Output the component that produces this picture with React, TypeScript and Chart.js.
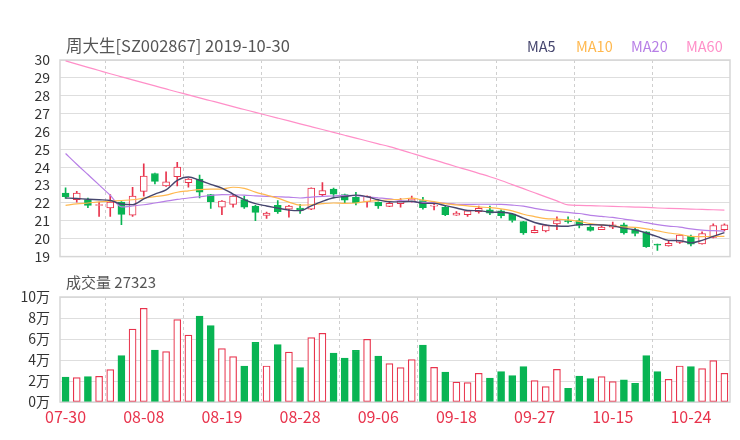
import { useEffect, useRef } from 'react';
import { Chart, registerables } from 'chart.js';

Chart.register(...registerables);

const FONT = "'Noto Sans CJK SC', 'Noto Sans', sans-serif";
const RED = '#e8334c';
const GREEN = '#08b453';

const dates = ['07-30','07-31','08-01','08-02','08-05','08-06','08-07','08-08','08-09','08-12','08-13','08-14','08-15','08-16','08-19','08-20','08-21','08-22','08-23','08-26','08-27','08-28','08-29','08-30','09-02','09-03','09-04','09-05','09-06','09-09','09-10','09-11','09-12','09-16','09-17','09-18','09-19','09-20','09-23','09-24','09-25','09-26','09-27','09-30','10-08','10-09','10-10','10-11','10-14','10-15','10-16','10-17','10-18','10-21','10-22','10-23','10-24','10-25','10-28','10-29'];

const open = [22.56,22.19,22.19,21.86,21.72,22.05,21.32,22.65,23.65,22.96,23.47,23.14,23.34,22.47,21.77,21.92,22.19,21.83,21.30,21.87,21.65,21.72,21.65,22.47,22.78,22.47,22.32,22.07,22.05,21.81,21.96,22.07,22.14,21.82,21.77,21.32,21.34,21.52,21.61,21.56,21.38,20.96,20.34,20.43,20.83,21.00,21.02,20.65,20.51,20.65,20.78,20.51,20.38,19.67,19.60,19.80,20.14,19.71,20.07,20.51];
const close = [22.36,22.56,21.87,21.88,22.05,21.36,22.38,23.50,23.21,23.18,24.01,23.34,22.61,22.07,22.10,22.38,21.77,21.47,21.43,21.51,21.83,21.60,22.83,22.69,22.50,22.16,22.01,22.38,21.83,21.98,22.10,22.23,21.74,21.84,21.34,21.43,21.56,21.70,21.43,21.29,21.02,20.32,20.47,20.74,21.02,20.96,20.74,20.47,20.65,20.78,20.32,20.29,19.56,19.64,19.74,20.20,19.69,20.29,20.74,20.78];
const high = [22.85,22.65,22.28,22.05,22.47,22.08,22.87,24.19,23.68,23.74,24.28,23.36,23.56,22.48,22.14,22.45,22.38,21.87,21.49,22.14,21.87,21.92,22.85,23.14,22.83,22.50,22.59,22.40,22.07,22.05,22.25,22.38,22.32,22.01,21.83,21.52,21.57,21.83,21.83,21.61,21.41,20.98,20.71,20.78,21.23,21.22,21.11,20.74,20.74,20.93,20.87,20.61,20.40,19.70,19.87,20.24,20.20,20.38,20.83,20.83];
const low = [22.25,22.05,21.74,21.25,21.25,20.78,21.25,22.38,23.07,22.92,22.96,22.88,22.28,21.69,21.34,21.77,21.70,21.01,21.14,21.41,21.20,21.41,21.63,22.41,22.28,22.01,21.89,21.77,21.69,21.79,21.77,22.05,21.65,21.61,21.29,21.31,21.25,21.43,21.34,21.16,20.93,20.24,20.33,20.38,20.51,20.87,20.61,20.42,20.50,20.56,20.25,20.16,19.52,19.34,19.59,19.74,19.60,19.69,20.05,20.43];

const ma5 = [22.28,22.25,22.21,22.18,22.14,21.94,21.91,22.23,22.50,22.73,23.26,23.45,23.27,23.04,22.83,22.50,22.19,21.96,21.83,21.71,21.60,21.57,21.84,22.09,22.29,22.36,22.44,22.35,22.18,22.07,22.06,22.10,21.98,21.98,21.85,21.72,21.58,21.57,21.49,21.48,21.40,21.15,20.91,20.77,20.71,20.70,20.79,20.79,20.77,20.72,20.59,20.50,20.32,20.12,19.91,19.89,19.77,19.91,20.13,20.34];
const ma10 = [21.87,21.95,22.00,22.06,22.10,22.14,22.18,22.27,22.36,22.44,22.60,22.68,22.75,22.77,22.78,22.88,22.82,22.61,22.44,22.27,22.05,21.88,21.90,21.96,22.00,21.98,22.00,22.09,22.13,22.18,22.21,22.27,22.16,22.08,21.96,21.89,21.84,21.78,21.74,21.67,21.56,21.37,21.24,21.13,21.10,21.05,20.97,20.85,20.77,20.72,20.65,20.64,20.55,20.44,20.32,20.24,20.13,20.12,20.13,20.13];
const ma20 = [24.77,24.17,23.59,23.01,22.43,21.78,21.83,21.90,22.00,22.10,22.20,22.28,22.35,22.42,22.47,22.46,22.44,22.40,22.37,22.35,22.33,22.28,22.33,22.37,22.39,22.43,22.41,22.35,22.29,22.23,22.13,22.07,22.03,22.02,21.98,21.93,21.92,21.93,21.93,21.92,21.88,21.82,21.70,21.60,21.53,21.47,21.41,21.31,21.25,21.19,21.10,21.01,20.90,20.79,20.71,20.65,20.55,20.48,20.45,20.42];
const ma60 = [29.95,29.77,29.59,29.41,29.23,29.06,28.89,28.72,28.55,28.38,28.21,28.05,27.88,27.72,27.56,27.39,27.23,27.07,26.91,26.75,26.59,26.43,26.27,26.11,25.95,25.79,25.63,25.47,25.31,25.15,24.97,24.78,24.59,24.41,24.22,24.03,23.85,23.66,23.47,23.26,23.03,22.80,22.57,22.34,22.12,21.89,21.87,21.85,21.83,21.81,21.79,21.77,21.75,21.72,21.70,21.68,21.66,21.64,21.62,21.60];

const volume = [23800,23200,24200,24500,30800,44200,69500,89200,49500,48000,78500,63800,81900,72800,50900,43200,34300,56900,34300,54600,47600,32700,61300,65400,46700,41900,49200,59700,43800,36500,32700,40400,54300,33000,28600,19000,18500,27300,22900,29000,25100,33700,20400,14700,31100,13000,24800,22300,24200,19400,21000,17800,44200,29000,21600,34300,33700,31800,39400,27323];

const priceTicks = [19, 30, 1];
const volTicks = [0, 100000, 20000];
const maNames = ['MA5', 'MA10', 'MA20', 'MA60'];
const maColors = ['#46466e', '#ffb84e', '#b77fe6', '#ff8fc8'];

const frame = {
  id: 'frame',
  beforeDatasetsDraw(chart: any) {
    const { ctx, chartArea: a, scales } = chart;
    const x = scales.x;
    ctx.save();
    ctx.strokeStyle = '#cfcfcf';
    ctx.lineWidth = 1;
    ctx.setLineDash([3, 3]);
    for (let i = 3.5; i < dates.length - 1; i += 7) {
      const px = Math.round(x.getPixelForValue(i)) + 0.5;
      ctx.beginPath();
      ctx.moveTo(px, a.top);
      ctx.lineTo(px, a.bottom);
      ctx.stroke();
    }
    ctx.setLineDash([]);
    ctx.strokeStyle = '#d6d6d6';
    ctx.lineWidth = 1.5;
    ctx.strokeRect(a.left, a.top, a.right - a.left, a.bottom - a.top);
    ctx.restore();
  },
};

export default function App() {
  const topRef = useRef<HTMLCanvasElement>(null);
  const volRef = useRef<HTMLCanvasElement>(null);

  useEffect(() => {
    const up = close.map((c, i) => c >= open[i]);
    const col = up.map((u) => (u ? RED : GREEN));
    const fill = up.map((u) => (u ? '#ffffff' : GREEN));
    const bodies = open.map((o, i) => [Math.min(o, close[i]), Math.max(o, close[i])]);
    const upper = high.map((h, i) => [Math.max(open[i], close[i]), h]);
    const lower = low.map((l, i) => [l, Math.min(open[i], close[i])]);
    const maData = [ma5, ma10, ma20, ma60];

    const lineSets: any[] = maData.map((d, k) => ({
      type: 'line',
      label: maNames[k],
      data: d,
      borderColor: maColors[k],
      borderWidth: k === 0 ? 1.4 : 1.2,
      pointRadius: 0,
      cubicInterpolationMode: 'monotone',
      order: 0,
    }));

    const top = new Chart(topRef.current as HTMLCanvasElement, {
      type: 'bar',
      data: {
        labels: dates,
        datasets: [
          ...lineSets,
          {
            type: 'bar', data: bodies as any, backgroundColor: fill, borderColor: col,
            borderWidth: 1, borderSkipped: false, barThickness: 7, grouped: false, minBarLength: 1, order: 1,
          },
          {
            type: 'bar', data: upper as any, backgroundColor: col, borderWidth: 0,
            barThickness: 1, grouped: false, order: 2,
          },
          {
            type: 'bar', data: lower as any, backgroundColor: col, borderWidth: 0,
            barThickness: 1, grouped: false, order: 2,
          },
        ],
      },
      options: {
        responsive: false,
        animation: false,
        devicePixelRatio: 1,
        events: [],
        layout: { padding: { top: 60, right: 10, bottom: 13, left: 0 } },
        plugins: { legend: { display: false }, tooltip: { enabled: false } },
        scales: {
          x: { type: 'category', offset: true, display: false, grid: { display: false } },
          y: {
            min: priceTicks[0], max: priceTicks[1],
            ticks: { stepSize: priceTicks[2], autoSkip: false, color: '#333', font: { family: FONT, size: 14 }, padding: 10 },
            grid: { color: '#dedede', drawTicks: false },
            border: { display: false },
            afterFit: (s: any) => { s.width = 60; },
          },
        },
      } as any,
      plugins: [frame],
    });

    const vol = new Chart(volRef.current as HTMLCanvasElement, {
      type: 'bar',
      data: {
        labels: dates,
        datasets: [
          {
            data: volume, backgroundColor: fill, borderColor: col, borderWidth: 1.2,
            borderSkipped: false, barThickness: 7,
          },
        ],
      },
      options: {
        responsive: false,
        animation: false,
        devicePixelRatio: 1,
        events: [],
        layout: { padding: { top: 27, right: 10, bottom: 0, left: 0 } },
        plugins: { legend: { display: false }, tooltip: { enabled: false } },
        scales: {
          x: {
            type: 'category', offset: true,
            grid: { display: false, drawTicks: false },
            border: { display: false },
            ticks: {
              autoSkip: false, maxRotation: 0, color: RED, padding: 5,
              font: { family: FONT, size: 16 },
              callback: (_v: any, i: number) => (i % 7 === 0 ? dates[i] : ''),
            },
            afterFit: (s: any) => { s.height = 38; },
          },
          y: {
            min: volTicks[0], max: volTicks[1],
            ticks: {
              stepSize: volTicks[2], autoSkip: false, color: '#333', font: { family: FONT, size: 14 }, padding: 10,
              callback: (v: any) => `${Number(v) / 10000}万`,
            },
            grid: { color: '#dedede', drawTicks: false },
            border: { display: false },
            afterFit: (s: any) => { s.width = 60; },
          },
        },
      } as any,
      plugins: [frame],
    });

    return () => { top.destroy(); vol.destroy(); };
  }, []);

  const legendX = [527, 576, 631, 686];
  return (
    <div style={{ position: 'fixed', left: 0, top: 0, width: 740, height: 440, background: '#fff', fontFamily: FONT }}>
      <canvas ref={topRef} width={740} height={275} style={{ position: 'absolute', left: 0, top: 0 }} />
      <canvas ref={volRef} width={740} height={170} style={{ position: 'absolute', left: 0, top: 270 }} />
      <div style={{ position: 'absolute', left: 66, top: 35, fontSize: 16.5, lineHeight: '20px', color: '#555', whiteSpace: 'nowrap' }}>
        周大生[SZ002867] 2019-10-30
      </div>
      {maNames.map((n, k) => (
        <div key={n} style={{ position: 'absolute', left: legendX[k], top: 35.5, fontSize: 14.5, lineHeight: '20px', color: maColors[k], whiteSpace: 'nowrap' }}>
          {n}
        </div>
      ))}
      <div style={{ position: 'absolute', left: 66, top: 272, fontSize: 15, lineHeight: '20px', color: '#555', whiteSpace: 'nowrap' }}>
        成交量 27323
      </div>
    </div>
  );
}
